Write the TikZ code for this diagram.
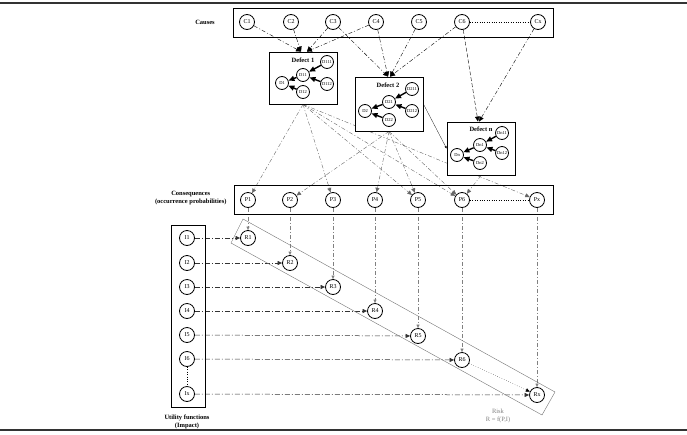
\documentclass[tikz,border=0pt]{standalone}
\usepackage{fontspec}
\setmainfont{Liberation Serif}
\usetikzlibrary{arrows.meta,backgrounds}

\begin{document}
\begin{tikzpicture}[x=1pt, y=-1pt,
	c/.style={circle, draw, thick, fill=white, minimum size=15pt, inner sep=0pt, font=\fontsize{6}{6}\selectfont},
	d/.style={circle, draw, thick, fill=white, minimum size=13pt, inner sep=0pt, font=\fontsize{4.5}{5}\selectfont},
	box/.style={draw, thick, inner sep=0pt},
	dbox/.style={box, fill=white},
	ttl/.style={font=\bfseries\fontsize{6.5}{7.5}\selectfont, align=center},
	cs/.style={-{Triangle[length=5pt,width=4.5pt]}, dash pattern=on 4pt off 2pt on 1pt off 2pt},
	cq/.style={black!60, -{Triangle[length=4.5pt,width=4pt]}, dash pattern=on 4pt off 2pt on 1pt off 2pt},
	ir/.style={black!80, line width=0.5pt, -{Triangle[length=4.5pt,width=4pt]}, dash pattern=on 5pt off 2pt on 1pt off 2pt},
	pr/.style={black!50, -{Triangle[length=3.5pt,width=3pt]}, dash pattern=on 4pt off 2pt on 1pt off 2pt},
	s/.style={line width=1.4pt, -{Triangle[length=6pt,width=5pt]}}]
	\useasboundingbox (0,0) rectangle (687,434);
	\draw[line width=1.2pt, black!80] (0,3) -- (687,3);
	\draw[line width=1.2pt, black!80] (0,430) -- (687,430);

	% causes
	\node[box, minimum width=320pt, minimum height=29pt] (causes) at (393,22.5) {};
	\node[ttl] (causes_label) at (205,22) {Causes};
	\node[c] (C1) at (247,22) {C1};
	\node[c] (C2) at (291,22) {C2};
	\node[c] (C3) at (333,22) {C3};
	\node[c] (C4) at (376,22) {C4};
	\node[c] (C5) at (419,22) {C5};
	\node[c] (C6) at (462,22) {C6};
	\node[c] (Cx) at (538,22) {Cx};
	\draw[dotted] (C6) -- (Cx);

	% defects
	\node[dbox, minimum width=68pt, minimum height=52pt] (def1) at (303,78) {};
	\node[ttl] (def1_label) at (303,60) {Defect 1};
	\node[d] (D1) at (282,83) {D1};
	\node[d] (D11) at (303,75) {D11};
	\node[d] (D111) at (327,62) {D111};
	\node[d] (D112) at (327,84) {D112};
	\node[d] (D12) at (303,92) {D12};
	\draw[s] (D111) -- (D11);
	\draw[s] (D112) -- (D11);
	\draw[s] (D11) -- (D1);
	\draw[s] (D12) -- (D1);

	\node[dbox, minimum width=68pt, minimum height=54pt] (def2) at (389,104) {};
	\node[ttl] (def2_label) at (388,85) {Defect 2};
	\node[d] (D2) at (365,111) {D2};
	\node[d] (D21) at (389,102) {D21};
	\node[d] (D211) at (412,89) {D211};
	\node[d] (D212) at (412,111) {D212};
	\node[d] (D22) at (389,120) {D22};
	\draw[s] (D211) -- (D21);
	\draw[s] (D212) -- (D21);
	\draw[s] (D21) -- (D2);
	\draw[s] (D22) -- (D2);

	\node[dbox, minimum width=68pt, minimum height=53pt] (defn) at (481,148.5) {};
	\node[ttl] (defn_label) at (481,129) {Defect n};
	\node[d] (Dn) at (457,155) {Dn};
	\node[d] (Dn1) at (480,145) {Dn1};
	\node[d] (Dn11) at (502,133) {Dn11};
	\node[d] (Dn12) at (502,153) {Dn12};
	\node[d] (Dn2) at (480,163) {Dn2};
	\draw[s] (Dn11) -- (Dn1);
	\draw[s] (Dn12) -- (Dn1);
	\draw[s] (Dn1) -- (Dn);
	\draw[s] (Dn2) -- (Dn);

	\draw[-{Triangle[length=2.5pt,width=2pt]}, line width=0.25pt] (def2.east) -- (defn.west);

	% consequences
	\node[box, minimum width=319pt, minimum height=29pt] (cons) at (393.5,199.5) {};
	\node[ttl, anchor=east] (cons_label) at (230,198) {Consequences\\(occurrence probabilities)};
	\node[c] (P1) at (248,200) {P1};
	\node[c] (P2) at (290,200) {P2};
	\node[c] (P3) at (333,200) {P3};
	\node[c] (P4) at (375,200) {P4};
	\node[c] (P5) at (418,200) {P5};
	\node[c] (P6) at (462,200) {P6};
	\node[c] (Px) at (537,200) {Px};
	\draw[dotted] (P6) -- (Px);

	% utility functions
	\node[box, minimum width=34pt, minimum height=182pt] (util) at (188,316) {};
	\node[ttl] (util_label) at (187,422) {Utility functions\\(Impact)};
	\node[c] (I1) at (187,238) {I1};
	\node[c] (I2) at (187,263) {I2};
	\node[c] (I3) at (187,287) {I3};
	\node[c] (I4) at (187,311) {I4};
	\node[c] (I5) at (187,335) {I5};
	\node[c] (I6) at (187,359) {I6};
	\node[c] (Ix) at (187,394) {Ix};
	\draw[dotted] (I6) -- (Ix);

	% risk
	\draw[black!55] (243,219) -- (555,392) -- (542,415) -- (231,243) -- cycle;
	\node[black!50, font=\fontsize{6.5}{7.5}\selectfont, align=center] (risk_label) at (498,416) {Risk\\R = f(P,I)};
	\node[c] (R1) at (248,238) {R1};
	\node[c] (R2) at (290,263) {R2};
	\node[c] (R3) at (333,287) {R3};
	\node[c] (R4) at (375,311) {R4};
	\node[c] (R5) at (418,336) {R5};
	\node[c] (R6) at (462,360) {R6};
	\node[c] (Rx) at (537,395) {Rx};
	\draw[dotted, -{Triangle[length=4pt,width=3.5pt]}] (R6) -- (Rx);

	\begin{pgfonlayer}{background}
		\draw[cs] (C1) -- ([xshift=-2pt]def1.north);
		\draw[cs] (C2) -- ([xshift=-2pt]def1.north);
		\draw[cs] (C3) -- ([xshift=4pt]def1.north);
		\draw[cs] (C4) -- ([xshift=4pt]def1.north);
		\draw[cs] (C3) -- ([xshift=-1pt]def2.north);
		\draw[cs] (C4) -- ([xshift=-1pt]def2.north);
		\draw[cs] (C5) -- ([xshift=1pt]def2.north);
		\draw[cs] (C6) -- ([xshift=1pt]def2.north);
		\draw[cs, dash pattern=on 4pt off 2pt] (C6) -- ([xshift=-3pt]defn.north);
		\draw[cs] (Cx) -- ([xshift=-2pt]defn.north);

		\draw[cq] (def1.south) -- (P1);
		\draw[cq] (def1.south) -- (P3);
		\draw[cq] (def1.south) -- (P5);
		\draw[cq] (def1.south) -- (P6);
		\draw[cq] (def1.south) -- (Px);
		\draw[cq] (def2.south) -- (P2);
		\draw[cq] (def2.south) -- (P4);
		\draw[cq] (def2.south) -- (P5);
		\draw[cq] (def2.south) -- (P6);
		\draw[cq] (defn.south) -- (P6);

		\draw[pr] (P1) -- (R1);
		\draw[pr] (P2) -- (R2);
		\draw[pr] (P3) -- (R3);
		\draw[pr] (P4) -- (R4);
		\draw[pr] (P5) -- (R5);
		\draw[pr] (P6) -- (R6);
		\draw[pr] (Px) -- (Rx);

		\draw[ir] (I1) -- (R1);
		\draw[ir] (I2) -- (R2);
		\draw[ir] (I3) -- (R3);
		\draw[ir] (I4) -- (R4);
		\draw[ir] (I5) -- (R5);
		\draw[ir] (I6) -- (R6);
		\draw[ir] (Ix) -- (Rx);
	\end{pgfonlayer}
\end{tikzpicture}
\end{document}
